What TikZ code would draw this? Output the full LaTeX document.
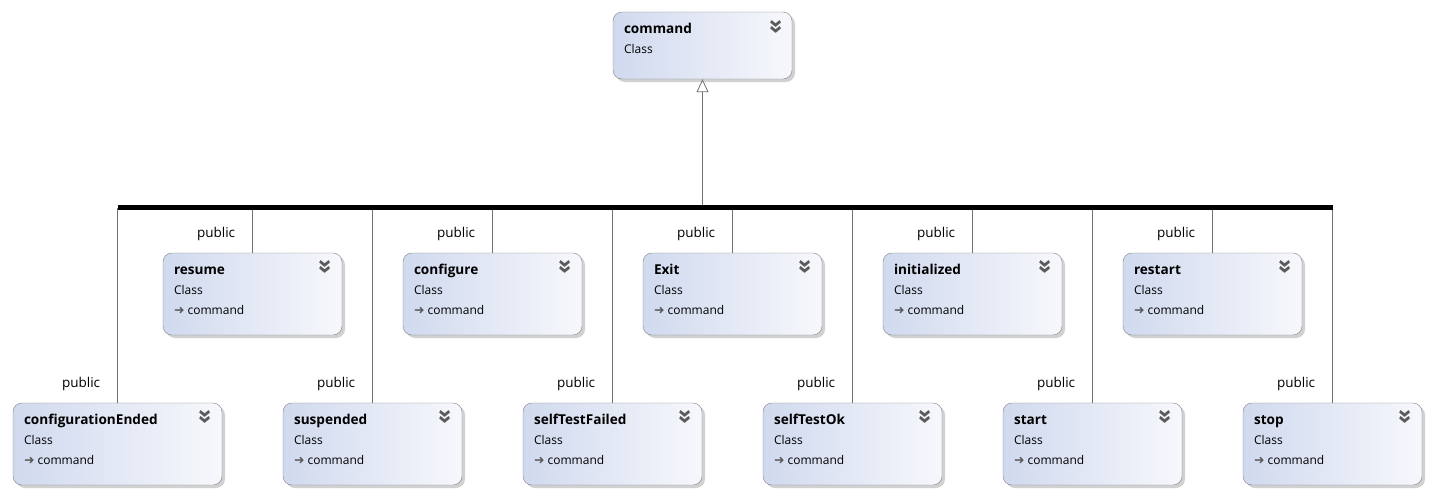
\documentclass[tikz,border=0pt]{standalone}
\usepackage{fontspec}
\setmainfont{Open Sans}
\newfontfamily\symfont{DejaVu Sans}
\usepackage{graphicx}
\definecolor{boxleft}{RGB}{208,217,238}
\definecolor{boxright}{RGB}{247,248,252}
\definecolor{boxline}{RGB}{128,128,128}
\definecolor{linkgray}{RGB}{112,112,112}
\definecolor{chevgray}{RGB}{90,90,90}
\usetikzlibrary{arrows.meta,shadows}
\newcommand\inharrow{{\symfont\fontsize{12.5}{12}\selectfont\color{chevgray}➜}}
\newcommand\chevdown{\rotatebox{-90}{\fontsize{24}{24}\selectfont\bfseries »}}
\newcommand\ctitle[1]{\rule{0pt}{14pt}{\fontsize{13.6}{20}\selectfont\bfseries #1}}

\begin{document}
\begin{tikzpicture}[x=1pt,y=1pt,
  classbox/.style={draw=boxline,rounded corners=9pt,left color=boxleft,right color=boxright,
        minimum width=179pt,minimum height=82pt,inner sep=0pt,
        drop shadow={shadow xshift=3pt,shadow yshift=-3pt,fill=black!18,opacity=1}},
  classtext/.style={anchor=north west,inner sep=0pt,align=left,xshift=11pt,yshift=-7pt,
        font=\fontsize{12}{20}\selectfont},
  chev/.style={inner sep=0pt,text=chevgray},
  conn/.style={draw=linkgray,line width=0.8pt},
  bus/.style={draw=black,line width=5pt},
  pub/.style={inner sep=0pt,anchor=east,xshift=-17pt,yshift=18.5pt,font=\fontsize{13.5}{16}\selectfont}]
  \useasboundingbox (0,0) rectangle (1434,-496);

  %% Base class
  \node[classbox,minimum height=67pt] (command) at (702.5,-45.5) {};
  \node[classtext] (command-t) at (command.north west) {\ctitle{command}\\Class};
  \node[chev] (command-c) at ([xshift=-17pt,yshift=-15pt]command.north east) {\chevdown};

  %% Row 1
  \node[classbox] (resume) at (252.5,-294) {};
  \node[classtext] (resume-t) at (resume.north west) {\ctitle{resume}\\Class\\\inharrow\ command};
  \node[chev] (resume-c) at ([xshift=-18pt,yshift=-14pt]resume.north east) {\chevdown};
  \node[classbox] (configure) at (492.5,-294) {};
  \node[classtext] (configure-t) at (configure.north west) {\ctitle{configure}\\Class\\\inharrow\ command};
  \node[chev] (configure-c) at ([xshift=-18pt,yshift=-14pt]configure.north east) {\chevdown};
  \node[classbox] (Exit) at (732.5,-294) {};
  \node[classtext] (Exit-t) at (Exit.north west) {\ctitle{Exit}\\Class\\\inharrow\ command};
  \node[chev] (Exit-c) at ([xshift=-18pt,yshift=-14pt]Exit.north east) {\chevdown};
  \node[classbox] (initialized) at (972.5,-294) {};
  \node[classtext] (initialized-t) at (initialized.north west) {\ctitle{initialized}\\Class\\\inharrow\ command};
  \node[chev] (initialized-c) at ([xshift=-18pt,yshift=-14pt]initialized.north east) {\chevdown};
  \node[classbox] (restart) at (1212.5,-294) {};
  \node[classtext] (restart-t) at (restart.north west) {\ctitle{restart}\\Class\\\inharrow\ command};
  \node[chev] (restart-c) at ([xshift=-18pt,yshift=-14pt]restart.north east) {\chevdown};

  %% Row 2
  \node[classbox,minimum width=209pt] (configurationEnded) at (117.5,-444) {};
  \node[classtext] (configurationEnded-t) at (configurationEnded.north west) {\ctitle{configurationEnded}\\Class\\\inharrow\ command};
  \node[chev] (configurationEnded-c) at ([xshift=-18pt,yshift=-14pt]configurationEnded.north east) {\chevdown};
  \node[classbox] (suspended) at (372.5,-444) {};
  \node[classtext] (suspended-t) at (suspended.north west) {\ctitle{suspended}\\Class\\\inharrow\ command};
  \node[chev] (suspended-c) at ([xshift=-18pt,yshift=-14pt]suspended.north east) {\chevdown};
  \node[classbox] (selfTestFailed) at (612.5,-444) {};
  \node[classtext] (selfTestFailed-t) at (selfTestFailed.north west) {\ctitle{selfTestFailed}\\Class\\\inharrow\ command};
  \node[chev] (selfTestFailed-c) at ([xshift=-18pt,yshift=-14pt]selfTestFailed.north east) {\chevdown};
  \node[classbox] (selfTestOk) at (852.5,-444) {};
  \node[classtext] (selfTestOk-t) at (selfTestOk.north west) {\ctitle{selfTestOk}\\Class\\\inharrow\ command};
  \node[chev] (selfTestOk-c) at ([xshift=-18pt,yshift=-14pt]selfTestOk.north east) {\chevdown};
  \node[classbox] (start) at (1092.5,-444) {};
  \node[classtext] (start-t) at (start.north west) {\ctitle{start}\\Class\\\inharrow\ command};
  \node[chev] (start-c) at ([xshift=-18pt,yshift=-14pt]start.north east) {\chevdown};
  \node[classbox] (stop) at (1332.5,-444) {};
  \node[classtext] (stop-t) at (stop.north west) {\ctitle{stop}\\Class\\\inharrow\ command};
  \node[chev] (stop-c) at ([xshift=-18pt,yshift=-14pt]stop.north east) {\chevdown};

  %% Inheritance links
  \coordinate (busline) at (702,-207.5);
  \draw[conn,-{Triangle[open,length=13pt,width=12pt]}] (command.south |- busline) -- (command.south);
  \draw[conn] (resume.north |- busline) -- (resume.north) node[pub] (resume-p) {public};
  \draw[conn] (configure.north |- busline) -- (configure.north) node[pub] (configure-p) {public};
  \draw[conn] (Exit.north |- busline) -- (Exit.north) node[pub] (Exit-p) {public};
  \draw[conn] (initialized.north |- busline) -- (initialized.north) node[pub] (initialized-p) {public};
  \draw[conn] (restart.north |- busline) -- (restart.north) node[pub] (restart-p) {public};
  \draw[conn] (configurationEnded.north |- busline) -- (configurationEnded.north) node[pub] (configurationEnded-p) {public};
  \draw[conn] (suspended.north |- busline) -- (suspended.north) node[pub] (suspended-p) {public};
  \draw[conn] (selfTestFailed.north |- busline) -- (selfTestFailed.north) node[pub] (selfTestFailed-p) {public};
  \draw[conn] (selfTestOk.north |- busline) -- (selfTestOk.north) node[pub] (selfTestOk-p) {public};
  \draw[conn] (start.north |- busline) -- (start.north) node[pub] (start-p) {public};
  \draw[conn] (stop.north |- busline) -- (stop.north) node[pub] (stop-p) {public};
  \draw[bus] (configurationEnded.north |- busline) -- (stop.north |- busline);
\end{tikzpicture}
\end{document}
